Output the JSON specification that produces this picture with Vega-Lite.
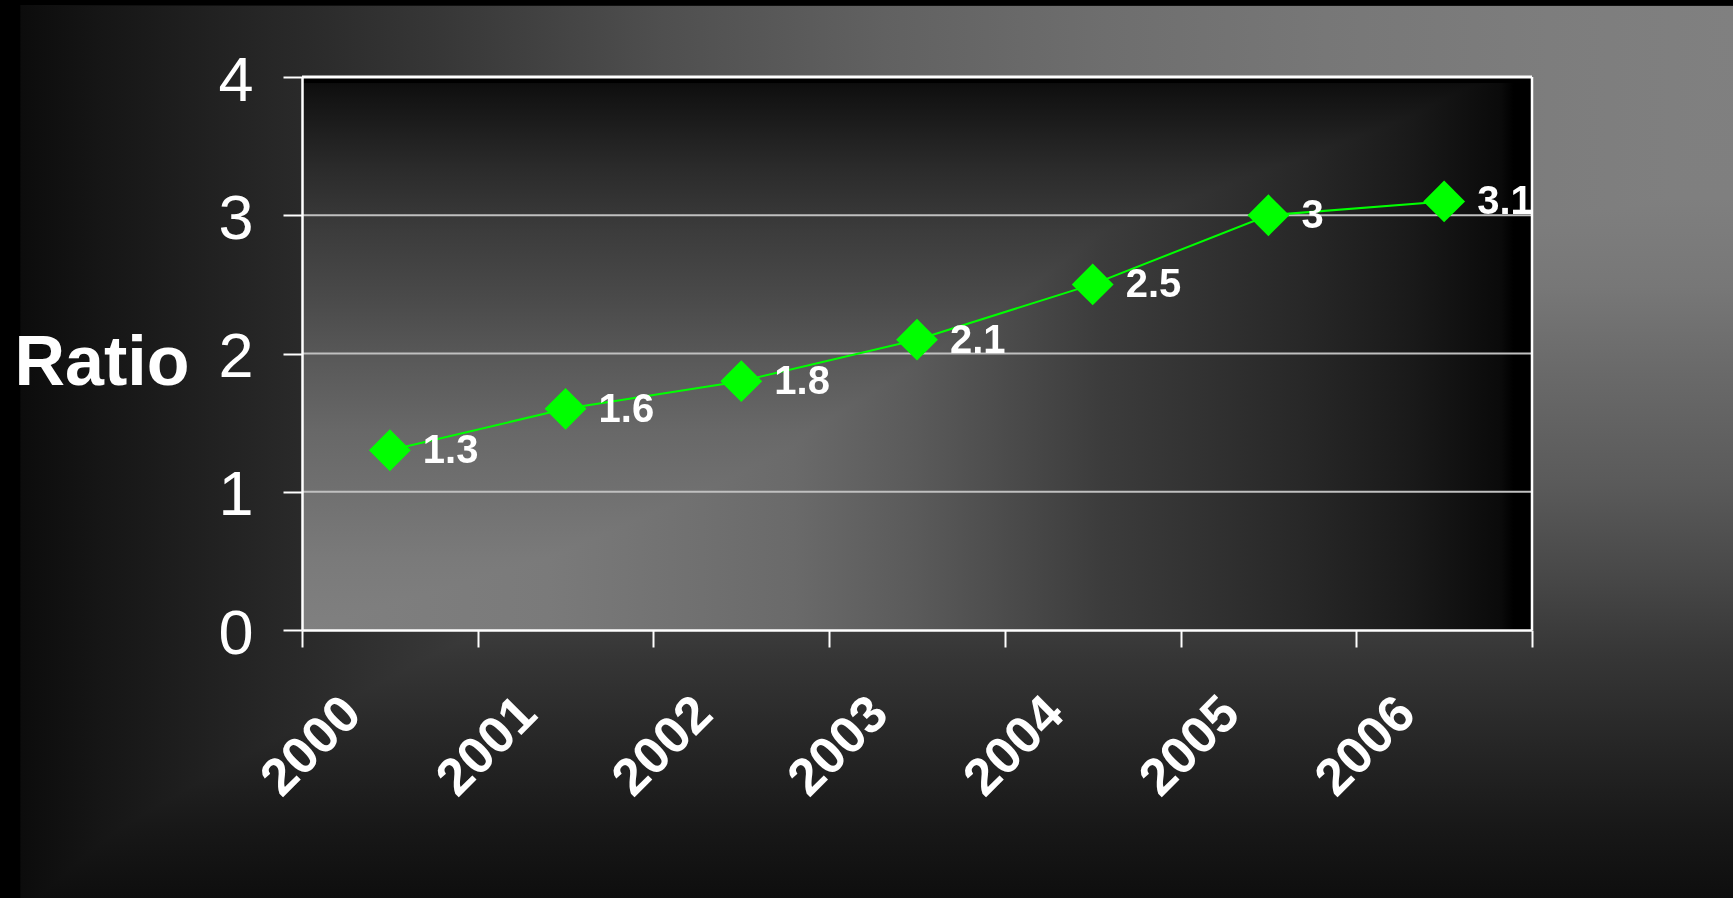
{
  "$schema": "https://vega.github.io/schema/vega-lite/v6.json",
  "width": 1733,
  "height": 898,
  "autosize": {"type": "none"},
  "padding": 0,
  "background": "#111111",
  "config": {
    "view": {"stroke": null, "fill": null},
    "font": "Liberation Sans"
  },
  "data": {
    "values": [
      {"year": "2000", "ratio": 1.3},
      {"year": "2001", "ratio": 1.6},
      {"year": "2002", "ratio": 1.8},
      {"year": "2003", "ratio": 2.1},
      {"year": "2004", "ratio": 2.5},
      {"year": "2005", "ratio": 3.0},
      {"year": "2006", "ratio": 3.1}
    ]
  },
  "layer": [
    {
      "data": {"values": [{}]},
      "layer": [
        {
          "mark": {
            "type": "rect",
            "stroke": null,
            "fill": {
              "gradient": "linear", "x1": 0, "y1": 0, "x2": 1, "y2": 0,
              "stops": [
                {"offset": 0, "color": "#000000"},
                {"offset": 0.0115, "color": "#000000"},
                {"offset": 0.012, "color": "#0c0c0c"},
                {"offset": 0.06, "color": "#161616"},
                {"offset": 0.128, "color": "#222222"},
                {"offset": 0.255, "color": "#373737"},
                {"offset": 0.383, "color": "#4f4f4f"},
                {"offset": 0.51, "color": "#616161"},
                {"offset": 0.638, "color": "#6e6e6e"},
                {"offset": 0.765, "color": "#777777"},
                {"offset": 0.893, "color": "#7d7d7d"},
                {"offset": 1, "color": "#808080"}
              ]
            }
          },
          "encoding": {}
        },
        {
          "mark": {
            "type": "rect",
            "stroke": null,
            "blend": "darken",
            "fill": {
              "gradient": "linear", "x1": 0, "y1": 0, "x2": 0, "y2": 1,
              "stops": [
                {"offset": 0, "color": "#000000"},
                {"offset": 0.006, "color": "#000000"},
                {"offset": 0.007, "color": "#808080"},
                {"offset": 0.22, "color": "#7f7f7f"},
                {"offset": 0.32, "color": "#777777"},
                {"offset": 0.41, "color": "#6a6a6a"},
                {"offset": 0.54, "color": "#5a5a5a"},
                {"offset": 0.64, "color": "#484848"},
                {"offset": 0.73, "color": "#363636"},
                {"offset": 0.83, "color": "#262626"},
                {"offset": 0.92, "color": "#181818"},
                {"offset": 1, "color": "#0e0e0e"}
              ]
            }
          },
          "encoding": {}
        }
      ]
    },
    {
      "layer": [
        {
          "data": {"values": [{}]},
          "mark": {
            "type": "rect",
            "stroke": null,
            "fill": {
              "gradient": "linear", "x1": 0, "y1": 0, "x2": 1, "y2": 0,
              "stops": [
                {"offset": 0, "color": "#808080"},
                {"offset": 0.2, "color": "#7a7a7a"},
                {"offset": 0.4, "color": "#6a6a6a"},
                {"offset": 0.5, "color": "#5a5a5a"},
                {"offset": 0.65, "color": "#3c3c3c"},
                {"offset": 0.81, "color": "#282828"},
                {"offset": 0.9, "color": "#1a1a1a"},
                {"offset": 0.975, "color": "#0a0a0a"},
                {"offset": 0.985, "color": "#000000"},
                {"offset": 1, "color": "#000000"}
              ]
            }
          },
          "encoding": {
            "x": {"datum": 0, "type": "quantitative", "scale": {"domain": [0, 7], "range": [302, 1532], "nice": false, "zero": false}, "axis": null},
            "x2": {"datum": 7},
            "y": {"datum": 0, "type": "quantitative", "scale": {"domain": [0, 4], "range": [630, 77], "nice": false}},
            "y2": {"datum": 4}
          }
        },
        {
          "data": {"values": [{}]},
          "mark": {
            "type": "rect",
            "stroke": null,
            "blend": "darken",
            "fill": {
              "gradient": "linear", "x1": 0, "y1": 0, "x2": 0, "y2": 1,
              "stops": [
                {"offset": 0, "color": "#000000"},
                {"offset": 0.01, "color": "#000000"},
                {"offset": 0.012, "color": "#0e0e0e"},
                {"offset": 0.04, "color": "#141414"},
                {"offset": 0.16, "color": "#2a2a2a"},
                {"offset": 0.28, "color": "#3c3c3c"},
                {"offset": 0.4, "color": "#4a4a4a"},
                {"offset": 0.52, "color": "#5a5a5a"},
                {"offset": 0.64, "color": "#686868"},
                {"offset": 0.75, "color": "#707070"},
                {"offset": 0.87, "color": "#7a7a7a"},
                {"offset": 1, "color": "#808080"}
              ]
            }
          },
          "encoding": {
            "x": {"datum": 0, "type": "quantitative", "axis": null},
            "x2": {"datum": 7},
            "y": {"datum": 0, "type": "quantitative"},
            "y2": {"datum": 4}
          }
        },
        {
          "data": {"values": [{"tick": 1}, {"tick": 2}, {"tick": 3}]},
          "mark": {"type": "rule", "color": "#c0c0c0", "strokeWidth": 2},
          "encoding": {
            "y": {"field": "tick", "type": "quantitative"},
            "x": {"datum": 0, "type": "quantitative", "axis": null},
            "x2": {"datum": 7}
          }
        },
        {
          "data": {"values": [{}]},
          "mark": {"type": "rule", "color": "#ffffff", "strokeWidth": 3},
          "encoding": {
            "y": {"datum": 4, "type": "quantitative"},
            "x": {"datum": 0, "type": "quantitative", "axis": null},
            "x2": {"datum": 7}
          }
        },
        {
          "data": {"values": [{}]},
          "mark": {"type": "rule", "color": "#ffffff", "strokeWidth": 2.5},
          "encoding": {
            "x": {"datum": 7, "type": "quantitative", "axis": null},
            "y": {"datum": 0, "type": "quantitative"},
            "y2": {"datum": 4}
          }
        }
      ]
    },
    {
      "encoding": {
        "x": {
          "field": "year",
          "type": "ordinal",
          "scale": {"type": "band", "domain": ["2000", "2001", "2002", "2003", "2004", "2005", "2006"], "range": [302, 1532], "paddingInner": 0, "paddingOuter": 0},
          "axis": {
            "orient": "bottom",
            "offset": -268,
            "title": null,
            "grid": false,
            "zindex": 1,
            "domainColor": "#ffffff",
            "domainWidth": 2.5,
            "tickColor": "#ffffff",
            "tickWidth": 2,
            "tickSize": 17,
            "tickBand": "extent",
            "labelAngle": -45,
            "labelAlign": "right",
            "labelBaseline": "middle",
            "labelFont": "Liberation Sans",
            "labelFontSize": 52,
            "labelFontWeight": "bold",
            "labelColor": "#ffffff",
            "labelPadding": 58,
            "labelOffset": -38,
            "labelOverlap": false,
            "labelBound": false
          }
        },
        "y": {
          "field": "ratio",
          "type": "quantitative",
          "scale": {"domain": [0, 4], "range": [630, 77], "nice": false},
          "axis": {
            "orient": "left",
            "offset": -302,
            "values": [0, 1, 2, 3, 4],
            "format": "d",
            "grid": false,
            "zindex": 1,
            "domainColor": "#ffffff",
            "domainWidth": 2.5,
            "tickColor": "#ffffff",
            "tickWidth": 2,
            "tickSize": 19,
            "labelFont": "Liberation Sans",
            "labelFontSize": 63,
            "labelFontWeight": "normal",
            "labelColor": "#ffffff",
            "labelPadding": 30,
            "labelOffset": 4,
            "labelFlush": false,
            "labelOverlap": false,
            "labelBound": false,
            "title": "Ratio",
            "titleAngle": 0,
            "titleAlign": "left",
            "titleBaseline": "middle",
            "titleX": -288,
            "titleY": 363,
            "titleFont": "Liberation Sans",
            "titleFontSize": 70,
            "titleFontWeight": "bold",
            "titleColor": "#ffffff"
          }
        }
      },
      "layer": [
        {"mark": {"type": "line", "color": "#00ff00", "strokeWidth": 2}},
        {"mark": {"type": "point", "shape": "diamond", "filled": true, "size": 1750, "color": "#00ff00", "opacity": 1}},
        {
          "mark": {"type": "text", "align": "left", "baseline": "middle", "dx": 33, "dy": 1, "font": "Liberation Sans", "fontSize": 40, "fontWeight": "bold", "color": "#ffffff"},
          "encoding": {"text": {"field": "ratio", "type": "nominal"}}
        }
      ]
    }
  ],
  "resolve": {"scale": {"x": "independent"}, "axis": {"x": "independent"}}
}
